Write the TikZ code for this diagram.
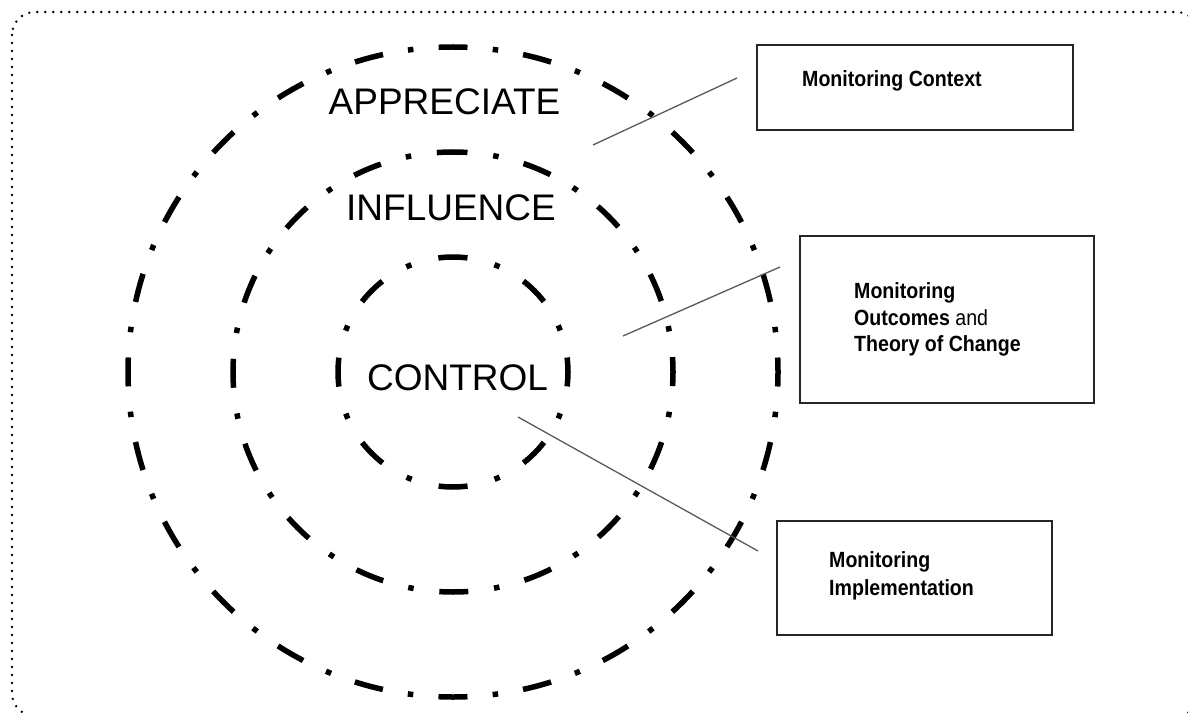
\documentclass[tikz,border=0pt]{standalone}
\usepackage{fontspec}
\setmainfont{Liberation Sans}
\newfontfamily\boxfont[FakeStretch=0.89]{Liberation Sans}
\tikzset{
  ringdash/.style={draw=black, line width=5.5pt, line cap=butt,
    dash pattern=on 29pt off #1 on 5.5pt off #1, dash phase=14.5pt},
  framedots/.style={draw=black, line width=2.6pt, line cap=round,
    dash pattern=on 0pt off 8pt, rounded corners=23pt},
  biglabel/.style={font=\fontsize{37}{40}\selectfont, inner sep=0pt, anchor=base},
  boxtext/.style={font=\boxfont\fontsize{22}{26}\selectfont\bfseries, inner sep=0pt, anchor=base west},
  monbox/.style={draw=black!85, line width=1.6pt, inner sep=0pt},
  conn/.style={draw=black!65, line width=1.3pt}
}
\begin{document}
\begin{tikzpicture}[x=1pt,y=-1pt]
\useasboundingbox (0,0) rectangle (1188,714);
% dotted frame (partly outside the picture)
\begin{scope}
  \clip (0,0) rectangle (1188,714);
  \draw[framedots] (12,12) rectangle (1199,716);
\end{scope}
% rings
\coordinate (ctr) at (453,372);
\draw[ringdash=25.3pt] (ctr) ++(0,-325) arc[start angle=90, delta angle=-360, radius=325pt];
\draw[ringdash=25.9pt] (ctr) ++(0,-220) arc[start angle=90, delta angle=-360, radius=220pt];
\draw[ringdash=27.9pt] (ctr) ++(0,-115) arc[start angle=90, delta angle=-360, radius=115pt];
% ring labels
\node[biglabel] (appr) at (444.5,115) {APPRECIATE};
\node[biglabel] (infl) at (451,220) {INFLUENCE};
\node[biglabel] (ctrl) at (457.5,390) {CONTROL};
% boxes
\node[monbox, minimum width=316pt, minimum height=85pt]  (box1) at (915,87.5) {};
\node[monbox, minimum width=294pt, minimum height=167pt] (box2) at (947,319.5) {};
\node[monbox, minimum width=275pt, minimum height=114pt] (box3) at (914.5,578) {};
\node[boxtext] (t1) at (802,87) {Monitoring Context};
\node[boxtext] (t2a) at (854,298) {Monitoring};
\node[boxtext] (t2b) at (854,325) {Outcomes \mdseries and};
\node[boxtext] (t2c) at (854,351) {Theory of Change};
\node[boxtext] (t3a) at (829,567) {Monitoring};
\node[boxtext] (t3b) at (829,595) {Implementation};
% connectors
\coordinate (c1a) at (593,145);
\coordinate (c1b) at (737,78);
\coordinate (c2a) at (623,336);
\coordinate (c2b) at (780,267);
\coordinate (c3a) at (518,417);
\coordinate (c3b) at (758,551);
\draw[conn] (c1a) -- (c1b);
\draw[conn] (c2a) -- (c2b);
\draw[conn] (c3a) -- (c3b);
\end{tikzpicture}
\end{document}
